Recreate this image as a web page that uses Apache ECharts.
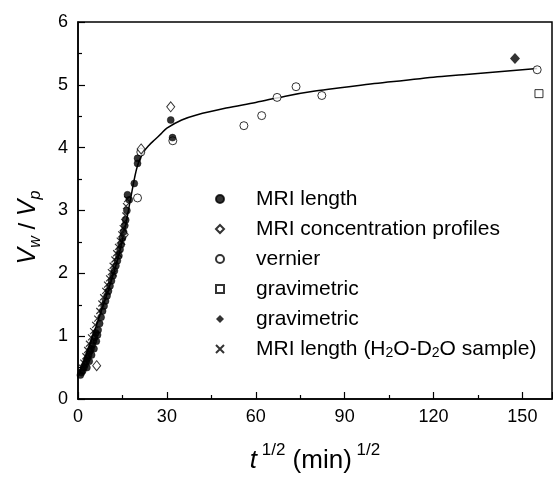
<!DOCTYPE html>
<html><head><meta charset="utf-8">
<script src="https://cdn.jsdelivr.net/npm/echarts@6/dist/echarts.min.js"></script>
<style>html,body{margin:0;padding:0;background:#fff}#c{width:553px;height:479px}</style>
</head><body><div id="c"></div>
<script>
// ---- data ----
const mriLength = [[0.8,0.38],[1.2,0.42],[1.6,0.45],[2.0,0.5],[2.4,0.55],[2.8,0.6],[3.2,0.65],[3.6,0.7],[4.0,0.76],[4.4,0.8],[4.8,0.86],[5.2,0.92],[5.6,0.98],[6.0,1.05],[3.0,0.5],[3.8,0.6],[4.6,0.7],[5.4,0.8],[6.2,0.92],[6.6,1.02],[6.8,1.1],[7.3,1.2],[7.8,1.3],[8.3,1.4],[8.8,1.48],[9.3,1.56],[9.8,1.64],[10.3,1.72],[10.8,1.8],[11.3,1.88],[11.8,1.96],[12.3,2.04],[12.8,2.12],[13.3,2.2],[13.8,2.28],[14.2,2.38],[14.6,2.46],[15.0,2.56],[15.4,2.66],[15.8,2.76],[16.1,2.85],[16.5,3.0],[17.3,3.17],[16.7,3.25],[19.0,3.43],[20.1,3.75],[20.1,3.83],[31.3,4.44],[31.9,4.16]];
const mriConcProfiles = [[6.3,0.53],[15.6,2.62],[21.3,3.98],[31.3,4.65]];
const vernier = [[21.2,3.93],[20.1,3.2],[32.0,4.11],[56,4.35],[62,4.51],[67.2,4.8],[73.6,4.97],[82.3,4.83],[155,5.24]];
const gravimetricOpen = [[155.6,4.86]];
const gravimetricFilled = [[147.5,5.42]];
const mriLengthH2OD2O = [[1.3,0.5],[1.8,0.58],[2.5,0.68],[3.1,0.78],[3.7,0.88],[4.4,0.98],[5.1,1.08],[5.8,1.18],[6.5,1.28],[7.2,1.4],[7.9,1.52],[8.5,1.62],[9.2,1.72],[9.8,1.82],[10.5,1.92],[11.1,2.02],[11.7,2.12],[12.3,2.22],[12.9,2.32],[13.5,2.42],[14.1,2.52],[14.6,2.62],[15.1,2.72],[15.6,2.82],[16.0,2.92],[16.2,3.07],[16.6,3.18],[12.0,2.0],[10.0,1.7],[13.8,2.3],[14.9,2.5]];
const fitX = [0,2,4,6,8,10,12,14,16,18,20,22,24,26,28,30,35,40,50,60,70,80,90,100,110,120,130,140,150,155];
const fitY = [0.35,0.6,0.87,1.14,1.42,1.7,2.0,2.33,2.75,3.25,3.7,3.92,4.04,4.13,4.22,4.31,4.44,4.52,4.63,4.72,4.82,4.9,4.96,5.02,5.07,5.12,5.16,5.2,5.24,5.26];
const xTicks = {min:0, max:160, step:30};
const yTicks = {min:0, max:6, step:1};
const legendLabels = {
  'MRI length':'MRI length',
  'MRI concentration profiles':'MRI concentration profiles',
  'vernier':'vernier',
  'gravimetric A':'gravimetric',
  'gravimetric B':'gravimetric',
  'MRI length H2O-D2O':'MRI length (H{sub|2}O-D{sub|2}O sample)'
};

const FONT = 'Liberation Sans, Arial, Helvetica, sans-serif';
const chart = echarts.init(document.getElementById('c'), null, {renderer:'canvas'});
const crossPath = 'path://M0,0L10,10M10,0L0,10';
const openStyle = {color:'#fff', borderColor:'#000', borderWidth:1};
chart.setOption({
  animation:false,
  backgroundColor:'#fff',
  grid:{left:78, right:1, top:22, bottom:76, show:true, borderColor:'#000', borderWidth:1.5, backgroundColor:'transparent'},
  xAxis:{
    type:'value', min:xTicks.min, max:xTicks.max, interval:xTicks.step,
    axisLine:{lineStyle:{color:'#000', width:1.5}},
    axisTick:{inside:true, length:7, lineStyle:{color:'#000', width:1.2}},
    minorTick:{show:true, splitNumber:2, length:4, lineStyle:{color:'#000', width:1.2}},
    splitLine:{show:false},
    axisLabel:{color:'#000', fontSize:18, fontFamily:FONT, margin:9, showMaxLabel:false},
    name:'{i|t}{sup| 1/2}{n| (min)}{sup| 1/2}',
    nameLocation:'middle', nameGap:43,
    nameTextStyle:{color:'#000', fontFamily:FONT, fontSize:26,
      rich:{i:{fontSize:26, fontStyle:'italic', fontFamily:FONT, lineHeight:32, verticalAlign:'bottom'},
            n:{fontSize:26, fontFamily:FONT, lineHeight:32, verticalAlign:'bottom'},
            sup:{fontSize:17, fontFamily:FONT, lineHeight:17, verticalAlign:'top'}}}
  },
  yAxis:{
    type:'value', min:yTicks.min, max:yTicks.max, interval:yTicks.step,
    axisLine:{lineStyle:{color:'#000', width:1.5}},
    axisTick:{inside:true, length:7, lineStyle:{color:'#000', width:1.2}},
    minorTick:{show:true, splitNumber:2, length:4, lineStyle:{color:'#000', width:1.2}},
    splitLine:{show:false},
    axisLabel:{color:'#000', fontSize:18, fontFamily:FONT, margin:10},
    name:'{i|V}{sub|w}{n| / }{i|V}{sub|p}',
    nameLocation:'middle', nameRotate:90, nameGap:34,
    nameTextStyle:{color:'#000', fontFamily:FONT, fontSize:24, padding:[0,34,0,0],
      rich:{i:{fontSize:25, fontStyle:'italic', fontFamily:FONT, lineHeight:28, verticalAlign:'top'},
            n:{fontSize:24, fontFamily:FONT, lineHeight:28, verticalAlign:'top'},
            sub:{fontSize:16, fontStyle:'italic', fontFamily:FONT, lineHeight:16, verticalAlign:'bottom'}}}
  },
  legend:{
    orient:'vertical', left:210, top:183,
    itemWidth:8, itemHeight:8, itemGap:8,
    data:['MRI length','MRI concentration profiles','vernier','gravimetric A','gravimetric B','MRI length H2O-D2O'],
    formatter:n=>legendLabels[n],
    textStyle:{color:'#000', fontSize:21, fontFamily:FONT, lineHeight:22, padding:[0,0,0,27],
      rich:{sub:{fontSize:14, fontFamily:FONT, lineHeight:14, verticalAlign:'bottom'}}}
  },
  series:[
    {type:'line', name:'fit', data:fitX.map((x,i)=>[x,fitY[i]]), showSymbol:false, symbol:'none', smooth:0.35,
     lineStyle:{color:'#000', width:1.5}, z:1, silent:true},
    {type:'scatter', name:'MRI length H2O-D2O', data:mriLengthH2OD2O, symbol:crossPath, symbolSize:6,
     itemStyle:{color:'rgba(0,0,0,0)', borderColor:'#000', borderWidth:1.2}, z:3},
    {type:'scatter', name:'MRI length', data:mriLength, symbol:'circle', symbolSize:7,
     itemStyle:{color:'#000', borderColor:'#000', borderWidth:0.5}, z:4},
    {type:'scatter', name:'vernier', data:vernier, symbol:'circle', symbolSize:8, itemStyle:openStyle, z:2},
    {type:'scatter', name:'MRI concentration profiles', data:mriConcProfiles, symbol:'diamond', symbolSize:[8,10], itemStyle:openStyle, z:2},
    {type:'scatter', name:'gravimetric A', data:gravimetricOpen, symbol:'rect', symbolSize:8, itemStyle:openStyle, z:2},
    {type:'scatter', name:'gravimetric B', data:gravimetricFilled, symbol:'diamond', symbolSize:[10,11],
     itemStyle:{color:'#000'}, z:2}
  ]
});
</script></body></html>
